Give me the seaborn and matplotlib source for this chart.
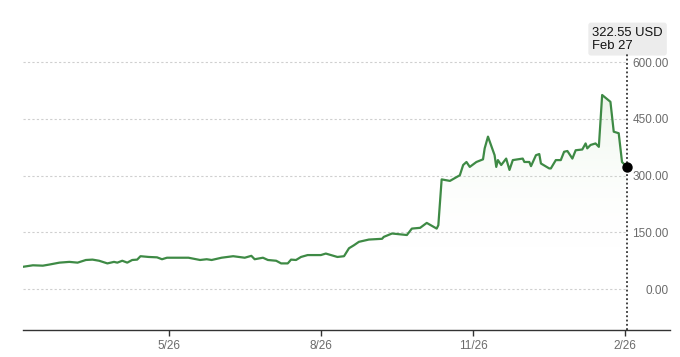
import matplotlib
matplotlib.use("Agg")
import matplotlib.pyplot as plt
import matplotlib.dates as mdates
import numpy as np
import pandas as pd
import seaborn as sns
from matplotlib.colors import LinearSegmentedColormap

# price readings (USD)
dates = [
    "2025-02-27", "2025-03-05", "2025-03-11", "2025-03-15", "2025-03-21",
    "2025-03-27", "2025-04-01", "2025-04-06", "2025-04-10", "2025-04-14",
    "2025-04-19", "2025-04-23", "2025-04-25", "2025-04-28", "2025-05-01",
    "2025-05-04", "2025-05-07", "2025-05-09", "2025-05-14", "2025-05-19",
    "2025-05-22", "2025-05-25", "2025-05-31", "2025-06-07", "2025-06-14",
    "2025-06-18", "2025-06-21", "2025-06-27", "2025-07-04", "2025-07-11",
    "2025-07-15", "2025-07-17", "2025-07-22", "2025-07-25", "2025-07-30",
    "2025-08-02", "2025-08-06", "2025-08-08", "2025-08-11", "2025-08-14",
    "2025-08-18", "2025-08-26", "2025-08-29", "2025-09-05", "2025-09-09",
    "2025-09-12", "2025-09-15", "2025-09-18", "2025-09-24", "2025-10-02",
    "2025-10-03", "2025-10-08", "2025-10-17", "2025-10-20", "2025-10-25",
    "2025-10-29", "2025-11-04", "2025-11-05", "2025-11-07", "2025-11-12",
    "2025-11-18", "2025-11-20", "2025-11-22", "2025-11-24", "2025-11-28",
    "2025-12-02", "2025-12-03", "2025-12-05", "2025-12-09", "2025-12-10",
    "2025-12-11", "2025-12-13", "2025-12-16", "2025-12-18", "2025-12-20",
    "2025-12-26", "2025-12-27", "2025-12-30", "2025-12-31", "2026-01-03",
    "2026-01-05", "2026-01-06", "2026-01-11", "2026-01-12", "2026-01-15",
    "2026-01-18", "2026-01-20", "2026-01-22", "2026-01-25", "2026-01-27",
    "2026-01-31", "2026-02-02", "2026-02-03", "2026-02-05", "2026-02-08",
    "2026-02-10", "2026-02-12", "2026-02-17", "2026-02-19", "2026-02-22",
    "2026-02-24", "2026-02-27",
]
prices = [
    59, 63, 62, 65, 70,
    72, 70, 77, 78, 75,
    68, 72, 70, 75, 70,
    77, 78, 87, 85, 84,
    79, 83, 83, 83, 77,
    79, 77, 83, 87, 83,
    88, 79, 83, 77, 75,
    68, 68, 78, 77, 85,
    90, 90, 94, 85, 87,
    108, 116, 125, 131, 133,
    138, 147, 143, 160, 162,
    175, 160, 169, 290, 286,
    301, 328, 336, 323, 336,
    343, 372, 403, 354, 323,
    341, 328, 345, 315, 341,
    345, 336, 336, 325, 354,
    357, 332, 319, 319, 341,
    341, 363, 365, 345, 367,
    369, 385, 372, 381, 385,
    376, 513, 495, 416, 412,
    336, 322.55,
]
y_ticks = [0, 150, 300, 450, 600]
x_ticks = ["2025-05-26", "2025-08-26", "2025-11-26", "2026-02-26"]
x_tick_labels = ["5/26", "8/26", "11/26", "2/26"]
last_label = "322.55 USD"
last_date_label = "Feb 27"

LINE = "#3e8a45"
GRID = "#cfcfcf"
LABEL = "#6b6b6b"

df = pd.DataFrame({"date": pd.to_datetime(dates), "price": prices})

sns.set_theme(style="white")
plt.rcParams["font.family"] = ["Liberation Sans", "DejaVu Sans"]

fig = plt.figure(figsize=(6.8, 3.57), dpi=100)
ax = fig.add_axes([23 / 680, 1 - 330 / 357, (670 - 23) / 680, (330 - 53) / 357])

x0 = df["date"].iloc[0]
x1 = df["date"].iloc[-1]
ax.set_xlim(x0, pd.Timestamp("2026-03-25"))
ax.set_ylim(-108, 624)

# dotted gridlines only across the data span
ax.hlines(y_ticks, x0, x1, colors=GRID, linestyles=(0, (2, 2)), linewidth=0.8, zorder=1)

# gradient fill under the line
xs = mdates.date2num(df["date"])
poly = ax.fill_between(xs, df["price"], -108, color="none", linewidth=0)
cmap = LinearSegmentedColormap.from_list("g", [(1, 1, 1, 0), (0.55, 0.78, 0.5, 0.16)])
grad = np.linspace(0, 1, 256).reshape(-1, 1)
img = ax.imshow(grad, cmap=cmap, aspect="auto", origin="lower",
                extent=[xs[0], xs[-1], 100, max(prices)], zorder=1)
img.set_clip_path(poly.get_paths()[0], transform=ax.transData)

sns.lineplot(data=df, x="date", y="price", ax=ax, color=LINE, linewidth=1.6, zorder=3)

# last point marker and dotted cursor
ax.axvline(x1, color="#111111", linestyle=(0, (1.2, 1.6)), linewidth=1.1, zorder=4)
ax.scatter([x1], [prices[-1]], s=42, color="#000000", zorder=5)

ax.annotate(f"{last_label}\n{last_date_label}", xy=(x1, 1), xycoords=("data", "axes fraction"),
            xytext=(-25, 1), textcoords="offset points", ha="left", va="bottom",
            fontsize=9.4, color="#111111", linespacing=1.12, annotation_clip=False,
            bbox=dict(boxstyle="round,pad=0.3,rounding_size=0.2", fc="#ececec", ec="none"))

# axes styling
for s in ["top", "left", "right"]:
    ax.spines[s].set_visible(False)
ax.spines["bottom"].set_color("#333333")
ax.spines["bottom"].set_linewidth(1.0)

ax.set_xticks(pd.to_datetime(x_ticks))
ax.set_xticklabels(x_tick_labels)
ax.tick_params(axis="x", bottom=True, length=4, width=1, color="#333333",
               labelsize=8.5, labelcolor=LABEL, pad=3)

ax.yaxis.tick_right()
ax.set_yticks(y_ticks)
ax.set_yticklabels([f"{v:.2f}" for v in y_ticks])
ax.tick_params(axis="y", right=False, length=0, pad=-1, labelsize=8.5, labelcolor=LABEL)
for lbl in ax.get_yticklabels():
    lbl.set_horizontalalignment("right")

ax.set_xlabel("")
ax.set_ylabel("")
ax.grid(False)

fig.savefig("out.png", dpi=100)
plt.close(fig)
